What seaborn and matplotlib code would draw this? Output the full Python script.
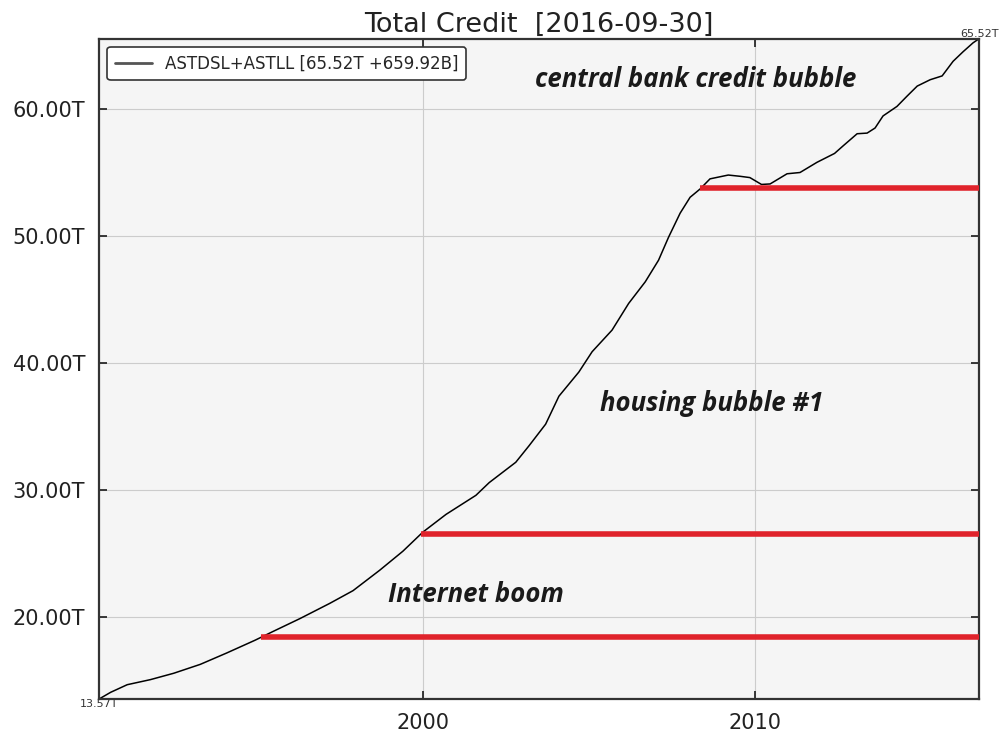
import matplotlib
matplotlib.use("Agg")
import matplotlib.pyplot as plt
import numpy as np
import pandas as pd
import seaborn as sns

# total credit (trillions)
years = [1990.25, 1990.6, 1991.1, 1991.8, 1992.5, 1993.3, 1994.1, 1994.95, 1995.5,
         1996.3, 1997.2, 1997.9, 1998.7, 1999.4, 2000.0, 2000.7, 2001.6, 2002.0,
         2002.8, 2003.2, 2003.7, 2004.1, 2004.7, 2005.1, 2005.7, 2006.2, 2006.7,
         2007.1, 2007.4, 2007.75, 2008.05, 2008.35, 2008.65, 2009.2, 2009.56,
         2009.85, 2010.2, 2010.46, 2010.97, 2011.36, 2011.87, 2012.4, 2012.66,
         2013.08, 2013.38, 2013.62, 2013.86, 2014.28, 2014.58, 2014.89, 2015.28,
         2015.64, 2015.97, 2016.27, 2016.57, 2016.75]
credit = [13.57, 14.1, 14.7, 15.1, 15.6, 16.3, 17.2, 18.2, 18.9,
          19.9, 21.1, 22.1, 23.7, 25.2, 26.7, 28.1, 29.6, 30.6,
          32.2, 33.5, 35.2, 37.4, 39.3, 40.9, 42.6, 44.7, 46.4,
          48.1, 49.9, 51.8, 53.05, 53.7, 54.5, 54.8, 54.7,
          54.6, 54.06, 54.1, 54.9, 55.0, 55.8, 56.5, 57.1,
          58.05, 58.1, 58.5, 59.45, 60.2, 61.0, 61.8, 62.3,
          62.6, 63.75, 64.5, 65.2, 65.52]

# red "floor" lines
floor_start = [1995.13, 1999.95, 2008.35]
floor_level = [18.42, 26.56, 53.75]

# annotations
notes = ["central bank credit bubble", "housing bubble #1", "Internet boom"]
note_x = [2008.23, 2008.7, 2001.6]
note_y = [62.3, 36.8, 21.8]

legend_label = "ASTDSL+ASTLL [65.52T +659.92B]"
title = "Total Credit  [2016-09-30]"

df = pd.DataFrame({"year": years, "credit": credit})

sns.set_theme(style="whitegrid")
plt.rcParams["font.family"] = ["DejaVu Sans"]

fig = plt.figure(figsize=(10, 7.32), dpi=100)
ax = fig.add_axes([0.099, 0.045, 0.88, 0.902])
ax.set_facecolor("#f5f5f5")

sns.lineplot(data=df, x="year", y="credit", ax=ax, color="black", linewidth=1.1,
             label=legend_label)

end = years[-1]
for s, lv in zip(floor_start, floor_level):
    ax.hlines(lv, s, end, color="#e0232b", linewidth=4, zorder=3)

for t, x, y in zip(notes, note_x, note_y):
    ax.text(x, y, t, ha="center", va="center", fontsize=18.5, fontweight="bold",
            fontstyle="italic", family="Open Sans", color="#1a1a1a")

ax.set_xlim(years[0], years[-1])
ax.set_ylim(min(credit), max(credit))
ax.set_xticks([2000, 2010])
ax.set_xticklabels(["2000", "2010"])
ax.set_yticks([20, 30, 40, 50, 60])
ax.set_yticklabels([f"{v:.2f}T" for v in [20, 30, 40, 50, 60]])
ax.tick_params(axis="both", labelsize=15, colors="#222222", direction="in",
               length=6, top=True, right=True, bottom=True, left=True)
ax.tick_params(axis="x", pad=10)
ax.tick_params(axis="y", pad=10)
ax.set_xlabel("")
ax.set_ylabel("")
ax.grid(True, color="#cccccc", linewidth=0.8)
for sp in ax.spines.values():
    sp.set_color("#333333")
    sp.set_linewidth(1.6)

ax.text(years[0], min(credit), f"{min(credit):.2f}T", ha="center", va="top",
        fontsize=8, color="#333333")
ax.text(years[-1], max(credit), f"{max(credit):.2f}T", ha="center", va="bottom",
        fontsize=8, color="#333333")

leg = ax.legend(loc="upper left", fontsize=12, frameon=True, fancybox=True,
                edgecolor="#333333", facecolor="white", framealpha=1,
                borderpad=0.45, handlelength=2.2, bbox_to_anchor=(0.0, 1.0))
leg.get_frame().set_linewidth(1.2)
for l in leg.get_lines():
    l.set_color("#555555")
    l.set_linewidth(2)

ax.set_title(title, fontsize=19.5, color="#222222", pad=5)

fig.savefig("out.png", dpi=100)
